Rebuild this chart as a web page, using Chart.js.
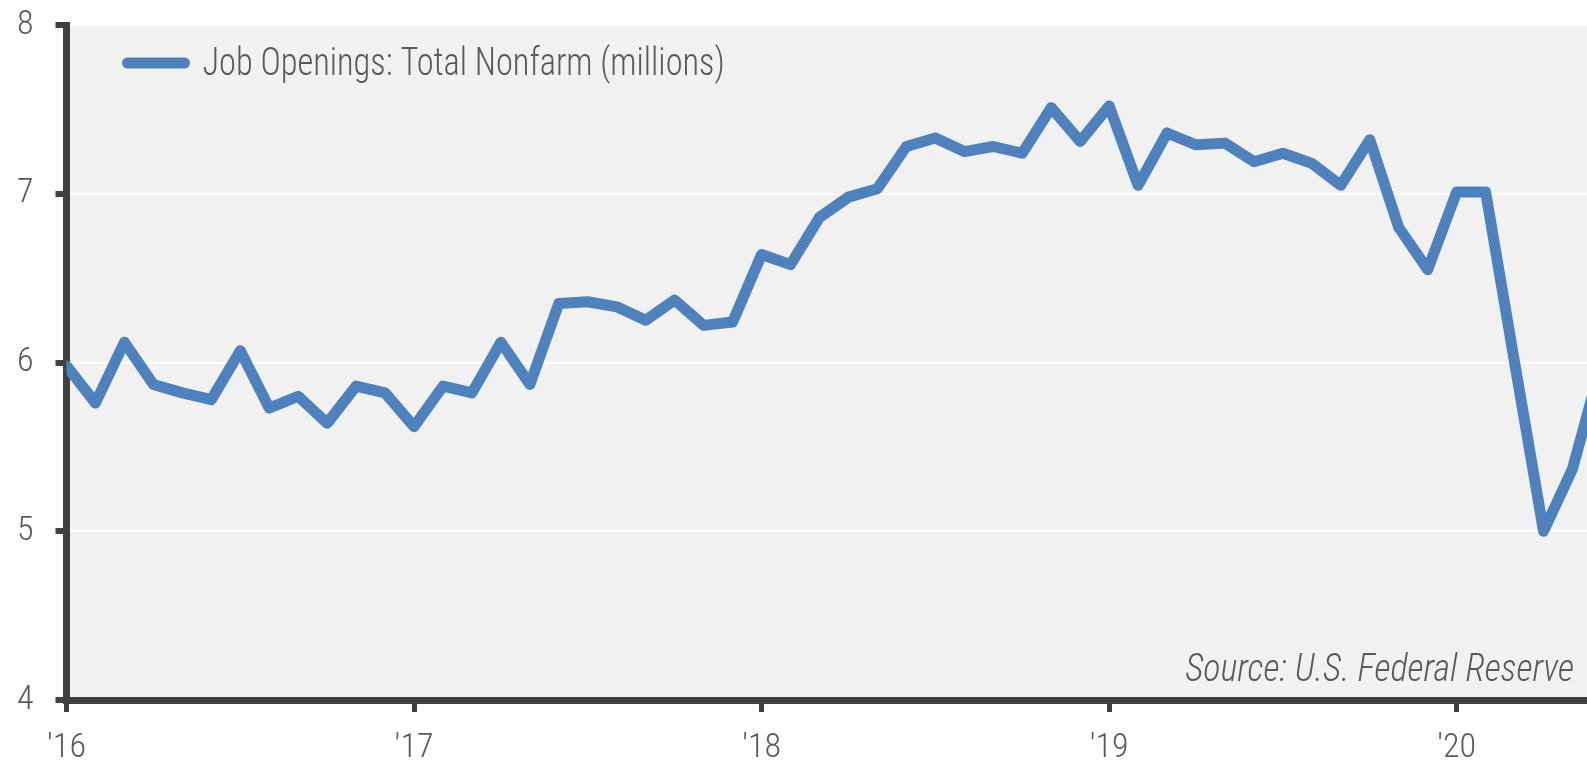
<!DOCTYPE html>
<html>
<head>
<meta charset="utf-8">
<title>Job Openings: Total Nonfarm</title>
<script src="https://cdn.jsdelivr.net/npm/chart.js@4.4.1/dist/chart.umd.min.js"></script>
<style>
  html, body { margin: 0; padding: 0; background: #fff; }
  canvas { display: block; }
</style>
</head>
<body>
<canvas id="myChart" width="1587" height="765"></canvas>
<script>
// job openings, total nonfarm (millions), one value per month from Jan '16
const jobs2016 = [5.98, 5.76, 6.12, 5.87, 5.82, 5.78, 6.07, 5.73, 5.80, 5.64, 5.86, 5.82];
const jobs2017 = [5.62, 5.86, 5.82, 6.12, 5.87, 6.35, 6.36, 6.33, 6.25, 6.37, 6.22, 6.24];
const jobs2018 = [6.64, 6.58, 6.86, 6.98, 7.03, 7.28, 7.33, 7.25, 7.28, 7.24, 7.51, 7.31];
const jobs2019 = [7.52, 7.05, 7.36, 7.29, 7.30, 7.19, 7.24, 7.18, 7.05, 7.32, 6.80, 6.55];
const jobs2020 = [7.01, 7.01, 6.00, 5.00, 5.37, 6.00];

const yearLabels = ["'16", "'17", "'18", "'19", "'20"];
const yTicks = [4, 5, 6, 7, 8];
const seriesName = 'Job Openings: Total Nonfarm (millions)';
const sourceText = 'Source: U.S. Federal Reserve';

const allJobs = [].concat(jobs2016, jobs2017, jobs2018, jobs2019, jobs2020);
const points = allJobs.map((v, i) => ({ x: i, y: v }));

const FONT = "'Roboto Condensed', Roboto, sans-serif";
const TEXT = '#595959';
const AXIS = '#404040';
const BLUE = '#4f81bd';

const plotBg = {
    id: 'plotBg',
    beforeDraw(chart) {
        const { ctx, chartArea: a } = chart;
        ctx.save();
        ctx.fillStyle = '#f1f1f1';
        ctx.fillRect(a.left, a.top, a.right - a.left, a.bottom - a.top);
        ctx.restore();
    }
};

// text squeezed a little sideways, the original font is a narrow one
function narrowText(ctx, str, x, y, sx) {
    ctx.save();
    ctx.translate(x, y);
    ctx.scale(sx, 1);
    ctx.fillText(str, 0, 0);
    ctx.restore();
}

const notes = {
    id: 'notes',
    afterDatasetsDraw(chart) {
        const { ctx, chartArea: a } = chart;
        ctx.save();
        // legend
        ctx.strokeStyle = BLUE;
        ctx.lineWidth = 11;
        ctx.lineCap = 'round';
        ctx.beginPath();
        ctx.moveTo(a.left + 61, a.top + 38);
        ctx.lineTo(a.left + 118, a.top + 38);
        ctx.stroke();
        ctx.fillStyle = TEXT;
        ctx.font = '300 38px ' + FONT;
        ctx.textBaseline = 'alphabetic';
        ctx.textAlign = 'left';
        narrowText(ctx, chart.data.datasets[0].label, a.left + 136, a.top + 50, 0.905);
        // source
        ctx.font = 'italic 300 38px ' + FONT;
        ctx.textAlign = 'right';
        narrowText(ctx, sourceText, a.right - 13, a.bottom - 19, 0.95);
        ctx.restore();
    }
};

const ctx = document.getElementById('myChart');

new Chart(ctx, {
    type: 'line',
    data: {
        datasets: [{
            label: seriesName,
            data: points,
            borderColor: BLUE,
            borderWidth: 11,
            borderCapStyle: 'round',
            borderJoinStyle: 'round',
            pointRadius: 0,
            tension: 0,
            fill: false
        }]
    },
    options: {
        responsive: false,
        animation: false,
        layout: { padding: { top: 25, left: 0, right: 0, bottom: 0 } },
        plugins: {
            legend: { display: false },
            tooltip: { enabled: false }
        },
        scales: {
            x: {
                type: 'linear',
                min: 0,
                max: 52.5,
                afterBuildTicks(scale) {
                    scale.ticks = yearLabels.map((l, i) => ({ value: i * 12 }));
                },
                afterFit(scale) {
                    scale.height = 65;
                    scale.paddingLeft = 0;
                    scale.paddingRight = 0;
                },
                border: { color: AXIS, width: 7 },
                grid: {
                    drawOnChartArea: false,
                    tickColor: AXIS,
                    tickWidth: 5,
                    tickLength: 12
                },
                ticks: {
                    autoSkip: false,
                    maxRotation: 0,
                    padding: 16,
                    color: TEXT,
                    font: { family: FONT, size: 34, weight: 300 },
                    callback: v => yearLabels[Math.round(v / 12)]
                }
            },
            y: {
                min: yTicks[0],
                max: yTicks[yTicks.length - 1],
                afterBuildTicks(scale) {
                    scale.ticks = yTicks.map(v => ({ value: v }));
                },
                afterFit(scale) {
                    scale.width = 66.5;
                    scale.paddingTop = 0;
                    scale.paddingBottom = 0;
                },
                border: { color: AXIS, width: 7 },
                grid: {
                    color: '#ffffff',
                    lineWidth: 2,
                    tickColor: AXIS,
                    tickWidth: 6,
                    tickLength: 11
                },
                ticks: {
                    padding: 22,
                    color: TEXT,
                    font: { family: FONT, size: 34, weight: 300 }
                }
            }
        }
    },
    plugins: [plotBg, notes]
});
</script>
</body>
</html>
